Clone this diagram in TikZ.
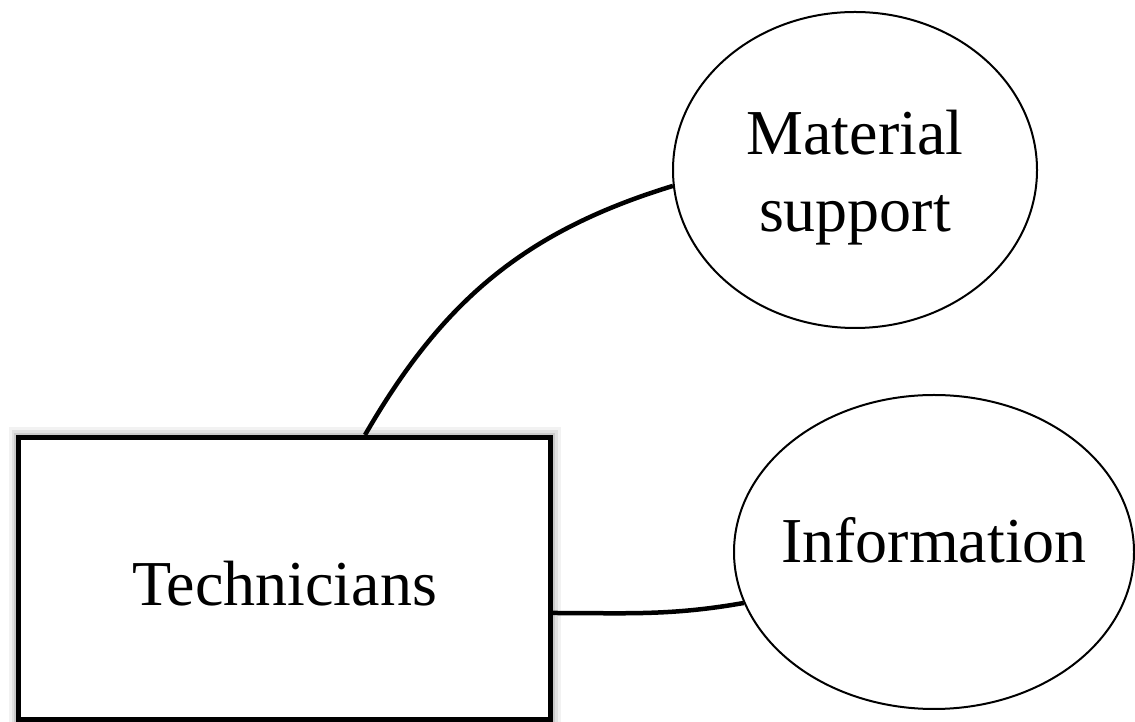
\documentclass[tikz,border=0pt]{standalone}
\usepackage{fontspec}
\setmainfont{Liberation Serif}
\usetikzlibrary{shapes.geometric}
\begin{document}
\begin{tikzpicture}[x=1pt,y=1pt,
  techbox/.style={draw, line width=5pt, rectangle, minimum width=532pt, minimum height=282pt, inner sep=0pt, fill=white,
    preaction={draw=black, opacity=0.05, line width=20pt},
    preaction={draw=black, opacity=0.07, line width=14pt},
    preaction={draw=black, opacity=0.10, line width=9pt}},
  oval/.style={draw, line width=2pt, ellipse, inner sep=0pt, fill=white},
  link/.style={line width=4.5pt},
  lbl/.style={font=\fontsize{64}{77}\selectfont}]
\useasboundingbox (0,0) rectangle (1135,722);
\node[techbox, lbl, text height=55pt, text depth=0pt] (tech) at (284.5,143.5) {Technicians};
\node[oval, lbl, align=center, minimum width=364pt, minimum height=316pt] (ms) at (855,552) {\rule{0pt}{60pt}Material\\support};
\node[oval, lbl, minimum width=400pt, minimum height=314pt, text height=44pt, text depth=22pt] (info) at (934,170) {\makebox[0pt][c]{Information}};
\draw[link] ([xshift=80.5pt]tech.north) to[out=60, in=197] (ms.185);
\draw[link] ([yshift=-34.5pt]tech.east) to[out=0, in=190] (info.195);
\end{tikzpicture}
\end{document}
